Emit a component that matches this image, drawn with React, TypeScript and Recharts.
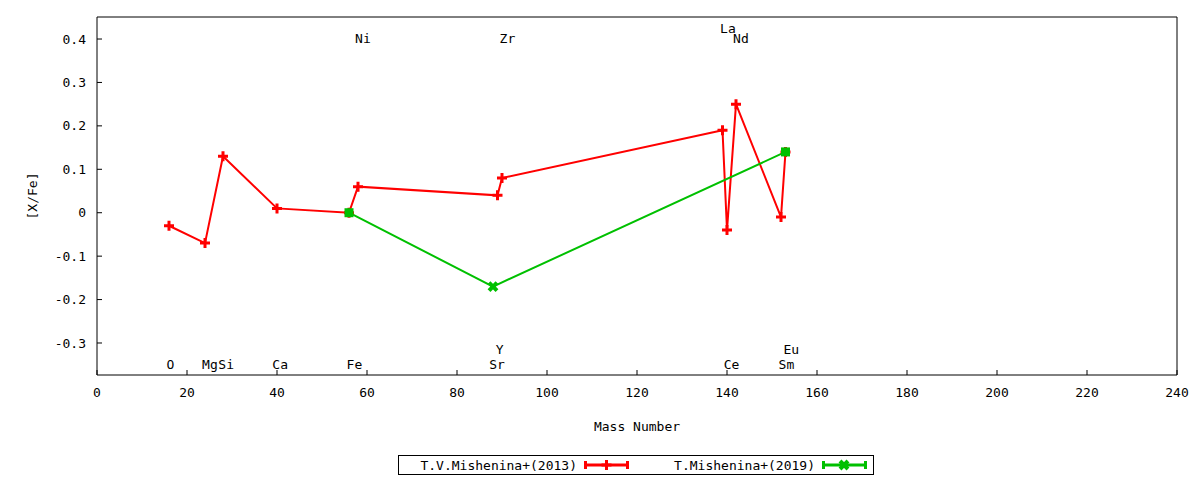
import React from "react";
import {
  ComposedChart,
  Line,
  Scatter,
  XAxis,
  YAxis,
} from "recharts";

// axis ticks
const massTicks = [0, 20, 40, 60, 80, 100, 120, 140, 160, 180, 200, 220, 240];
const xfeTicks = [-0.3, -0.2, -0.1, 0, 0.1, 0.2, 0.3, 0.4];

// T.V.Mishenina+(2013)
const mish2013Mass = [16, 24, 28, 40, 56, 58, 89, 90, 139, 140, 142, 152, 153];
const mish2013XFe = [-0.03, -0.07, 0.13, 0.01, 0.0, 0.06, 0.04, 0.08, 0.19, -0.04, 0.25, -0.01, 0.14];

// T.Mishenina+(2019)
const mish2019Mass = [56, 88, 153];
const mish2019XFe = [0.0, -0.17, 0.14];

const seriesNames = ["T.V.Mishenina+(2013)", "T.Mishenina+(2019)"];

// element labels (mass, [X/Fe] of the text baseline)
const elemNames = ["Ni", "Zr", "La", "Nd", "O", "Mg", "Si", "Ca", "Fe", "Sr", "Y", "Ce", "Sm", "Eu"];
const elemMass = [59.1, 91.2, 140.2, 143.1, 16.3, 25.1, 28.7, 40.7, 57.2, 88.9, 89.5, 141, 153.2, 154.3];
const elemLevel = [0.391, 0.391, 0.415, 0.391, -0.359, -0.359, -0.359, -0.359, -0.359, -0.359, -0.325, -0.359, -0.359, -0.325];

const RED = "#ff0000";
const GREEN = "#00c000";
const FONT = "'DejaVu Sans Mono', monospace";

const data2013 = mish2013Mass.map((x, i) => ({ x, y: mish2013XFe[i] }));
const data2019 = mish2019Mass.map((x, i) => ({ x, y: mish2019XFe[i] }));
const labelData = elemNames.map((name, i) => ({ name, x: elemMass[i], y: elemLevel[i] }));

const plusPath = (cx: number, cy: number) =>
  `M${cx - 5},${cy}H${cx + 5}M${cx},${cy - 5}V${cy + 5}`;
const crossPath = (cx: number, cy: number) =>
  `M${cx - 4},${cy - 4}L${cx + 4},${cy + 4}M${cx - 4},${cy + 4}L${cx + 4},${cy - 4}`;

const PlusDot = (props: any) => {
  const { cx, cy, index } = props;
  if (cx == null || cy == null) return <g key={`p-${index}`} />;
  return <path key={`p-${index}`} d={plusPath(cx, cy)} stroke={RED} strokeWidth={3} fill="none" />;
};

// where the 2019 point sits on a 2013 point the two marks merge into a block
const CrossDot = (props: any) => {
  const { cx, cy, index, payload } = props;
  if (cx == null || cy == null) return <g key={`c-${index}`} />;
  const shared = data2013.some((d) => d.x === payload.x && d.y === payload.y);
  if (shared) {
    return <rect key={`c-${index}`} x={cx - 4.5} y={cy - 4.5} width={9} height={9} fill={GREEN} />;
  }
  return <path key={`c-${index}`} d={crossPath(cx, cy)} stroke={GREEN} strokeWidth={4} fill="none" />;
};

const ElemLabel = (props: any) => {
  const { cx, cy, payload } = props;
  return (
    <text x={cx} y={cy} textAnchor="middle" fontFamily={FONT} fontSize={13} fill="#000">
      {payload.name}
    </text>
  );
};

const YTitle = (props: any) => {
  const { viewBox } = props;
  const x = viewBox.x + 32;
  const y = viewBox.y + viewBox.height / 2;
  return (
    <text
      x={x}
      y={y}
      transform={`rotate(-90 ${x} ${y})`}
      textAnchor="middle"
      dominantBaseline="central"
      fontFamily={FONT}
      fontSize={13}
      fill="#000"
    >
      [X/Fe]
    </text>
  );
};

const tickStyle = { fill: "#000", fontSize: 13, fontFamily: FONT };
const black = { stroke: "#000", strokeWidth: 1 };

function KeyBox() {
  return (
    <svg
      width={478}
      height={22}
      style={{ position: "absolute", left: 397, top: 454 }}
    >
      <rect x={1.5} y={1.5} width={475} height={19} fill="#fff" stroke="#000" strokeWidth={1} />
      <text x={180} y={16} textAnchor="end" fontFamily={FONT} fontSize={13} fill="#000">
        {seriesNames[0]}
      </text>
      <path d="M188,11H231M188.5,7V15M230.5,7V15" stroke={RED} strokeWidth={3} fill="none" />
      <path d={plusPath(209.5, 11)} stroke={RED} strokeWidth={3} fill="none" />
      <text x={418} y={16} textAnchor="end" fontFamily={FONT} fontSize={13} fill="#000">
        {seriesNames[1]}
      </text>
      <path d="M426,11H469M426.5,7V15M468.5,7V15" stroke={GREEN} strokeWidth={3} fill="none" />
      <path d={crossPath(447, 11)} stroke={GREEN} strokeWidth={4} fill="none" />
    </svg>
  );
}

export default function App() {
  return (
    <div style={{ position: "absolute", left: 0, top: 0, width: 1200, height: 480, background: "#fff" }}>
      <ComposedChart
        width={1200}
        height={480}
        margin={{ top: 16, right: 22, bottom: 49, left: 0 }}
        style={{ fontFamily: FONT }}
      >
        <XAxis
          dataKey="x"
          type="number"
          domain={[0, 240]}
          ticks={massTicks}
          interval={0}
          allowDataOverflow
          height={56}
          tickSize={-5}
          tickMargin={18}
          tick={tickStyle}
          axisLine={black}
          tickLine={black}
          label={{
            value: "Mass Number",
            position: "insideBottom",
            offset: 0,
            fill: "#000",
            fontSize: 13,
            fontFamily: FONT,
          }}
        />
        <XAxis
          xAxisId="top"
          dataKey="x"
          orientation="top"
          type="number"
          domain={[0, 240]}
          ticks={massTicks}
          interval={0}
          allowDataOverflow
          height={1}
          tickSize={-5}
          tick={false}
          axisLine={black}
          tickLine={black}
        />
        <YAxis
          type="number"
          domain={[-0.3737, 0.4507]}
          ticks={xfeTicks}
          interval={0}
          allowDataOverflow
          width={97}
          tickSize={-5}
          tickMargin={16}
          tick={tickStyle}
          axisLine={black}
          tickLine={black}
          label={<YTitle />}
        />
        <YAxis
          yAxisId="right"
          orientation="right"
          type="number"
          domain={[-0.3737, 0.4507]}
          ticks={xfeTicks}
          interval={0}
          allowDataOverflow
          width={1}
          tickSize={-5}
          tick={false}
          axisLine={black}
          tickLine={black}
        />
        <Line
          data={data2013}
          dataKey="y"
          name={seriesNames[0]}
          type="linear"
          stroke={RED}
          strokeWidth={2}
          dot={PlusDot}
          activeDot={false}
          isAnimationActive={false}
        />
        <Line
          data={data2019}
          dataKey="y"
          name={seriesNames[1]}
          type="linear"
          stroke={GREEN}
          strokeWidth={2}
          dot={CrossDot}
          activeDot={false}
          isAnimationActive={false}
        />
        <Scatter
          data={labelData}
          dataKey="y"
          shape={ElemLabel}
          isAnimationActive={false}
        />
        {/* invisible copies that tie the mirror axes to the same data range */}
        <Line
          data={data2013}
          dataKey="y"
          xAxisId="top"
          yAxisId="right"
          stroke="none"
          dot={false}
          activeDot={false}
          legendType="none"
          isAnimationActive={false}
        />
      </ComposedChart>
      <KeyBox />
    </div>
  );
}
